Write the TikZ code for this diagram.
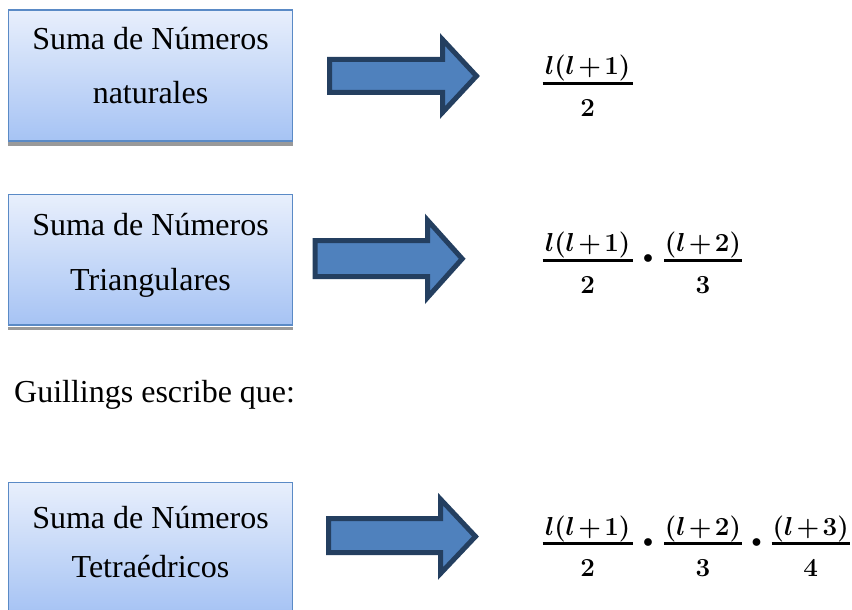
\RequirePackage{fix-cm}
\documentclass[tikz,border=0pt]{standalone}
\usepackage{fontspec}
\setmainfont{Liberation Serif}
\usepackage{amsmath}
\newcommand{\tplus}{\mskip2mu{+}\mskip2mu}
\definecolor{boxtop}{HTML}{E8EFFC}
\definecolor{boxbot}{HTML}{A6C3F4}
\definecolor{boxline}{HTML}{5A8AC6}
\definecolor{shadowgray}{HTML}{9A9A9A}
\definecolor{arrfill}{HTML}{4F81BD}
\definecolor{arrline}{HTML}{243F60}
\tikzset{
  sumbox/.style={rectangle, draw=boxline, line width=1.5pt, top color=boxtop, bottom color=boxbot,
    minimum width=284pt, minimum height=130.5pt, inner sep=0pt},
  boxtext/.style={anchor=base, inner sep=0pt, font=\fontsize{32}{38}\selectfont},
  plaintext/.style={anchor=base west, inner sep=0pt, font=\fontsize{32}{38}\selectfont},
  bigarrow/.style={fill=arrfill, draw=arrline, line width=5pt, line join=miter},
  mathpart/.style={anchor=base, inner sep=0pt, font=\fontsize{26}{30}\selectfont\boldmath},
  fracbar/.style={line width=3pt, black},
  dotnode/.style={inner sep=0pt, font=\fontsize{20}{24}\selectfont}
}
\begin{document}
\begin{tikzpicture}[x=1pt,y=-1pt]
\useasboundingbox (0,0) rectangle (852,610);
\fill[white] (0,0) rectangle (852,610);

% boxes
\node[sumbox] (b1) at (150.25,75.5) {};
\fill[shadowgray] ([yshift=-0.75pt]b1.south west) rectangle ([yshift=-4.5pt]b1.south east);
\node[boxtext] (b1a) at (150.5,50) {Suma de Números};
\node[boxtext] (b1b) at (150.5,103) {naturales};

\node[sumbox] (b2) at (150.25,259.9) {};
\fill[shadowgray] ([yshift=-0.75pt]b2.south west) rectangle ([yshift=-4.5pt]b2.south east);
\node[boxtext] (b2a) at (150.5,235) {Suma de Números};
\node[boxtext] (b2b) at (150.5,290) {Triangulares};

\node[sumbox] (b3) at (150.25,547.95) {};
\node[boxtext] (b3a) at (150.5,528) {Suma de Números};
\node[boxtext] (b3b) at (150.5,577) {Tetraédricos};

\node[plaintext] (g) at (14,402) {Guillings escribe que:};

% arrows
\draw[bigarrow] (329.5,59.5) -- (442.5,59.5) -- (442.5,39.5) -- (476.5,76) -- (442.5,112.5) -- (442.5,92.5) -- (329.5,92.5) -- cycle;
\draw[bigarrow] (315.2,240.5) -- (427.5,240.5) -- (427.5,220.2) -- (462.2,258.8) -- (427.5,297.5) -- (427.5,276.5) -- (315.2,276.5) -- cycle;
\draw[bigarrow] (328.5,518.5) -- (440.5,518.5) -- (440.5,499.2) -- (475.5,536.5) -- (440.5,573.5) -- (440.5,552.5) -- (328.5,552.5) -- cycle;

% formula 1
\node[mathpart] (f1n) at (587.7,75) {$l(l\tplus1)$};
\draw[fracbar] (542.7,83.3) -- (632.7,83.3);
\node[mathpart] (f1d) at (587.7,117) {$2$};

% formula 2
\node[mathpart] (f2n) at (587.7,251.7) {$l(l\tplus1)$};
\draw[fracbar] (542.7,260) -- (632.7,260);
\node[mathpart] (f2d) at (587.7,293) {$2$};
\node[dotnode] (f2dot) at (648,259.5) {$\bullet$};
\node[mathpart] (f2n2) at (702.9,251.7) {$(l\tplus2)$};
\draw[fracbar] (664,260) -- (741.7,260);
\node[mathpart] (f2d2) at (702.9,293) {$3$};

% formula 3
\node[mathpart] (f3n) at (587.7,535) {$l(l\tplus1)$};
\draw[fracbar] (542.7,543.3) -- (632.7,543.3);
\node[mathpart] (f3d) at (587.7,576.5) {$2$};
\node[dotnode] (f3dot) at (648,543) {$\bullet$};
\node[mathpart] (f3n2) at (702.9,535) {$(l\tplus2)$};
\draw[fracbar] (664,543.3) -- (741.7,543.3);
\node[mathpart] (f3d2) at (702.9,576.5) {$3$};
\node[dotnode] (f3dot2) at (756.5,543) {$\bullet$};
\node[mathpart] (f3n3) at (810.7,535) {$(l\tplus3)$};
\draw[fracbar] (771.7,543.3) -- (849.7,543.3);
\node[mathpart] (f3d3) at (810.7,576.5) {$4$};
\end{tikzpicture}
\end{document}
